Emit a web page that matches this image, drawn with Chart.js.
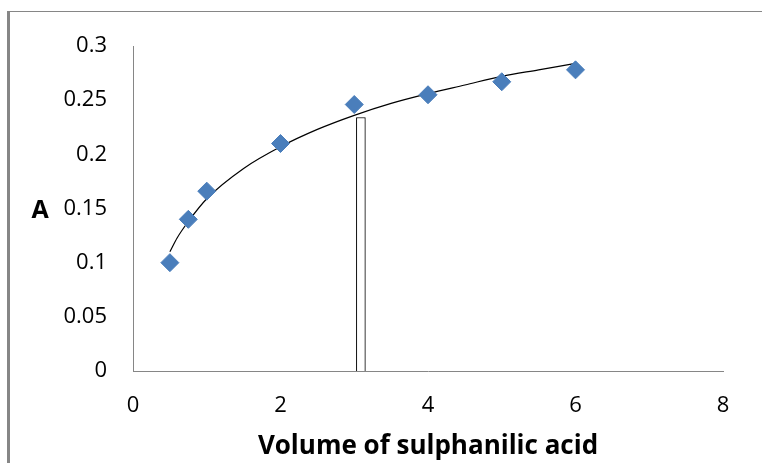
<!DOCTYPE html>
<html>
<head>
<meta charset="utf-8">
<title>Volume of sulphanilic acid</title>
<script src="https://cdn.jsdelivr.net/npm/chart.js@4/dist/chart.umd.min.js"></script>
<style>
    html, body { margin: 0; padding: 0; background: #fff; overflow: hidden; }
    #wrap { position: relative; width: 762px; height: 463px; }
    #frame {
        position: absolute; left: 7px; top: 11px; width: 800px; height: 500px;
        border-left: 3px solid #868686; border-top: 1px solid #868686;
    }
    #chart { position: absolute; left: 0; top: 0; }
</style>
</head>
<body>
<div id="wrap">
    <div id="frame"></div>
    <canvas id="chart" width="762" height="463"></canvas>
</div>
<script>
// measured points
const volume = [0.5, 0.75, 1, 2, 3, 4, 5, 6];
const absorbance = [0.1, 0.14, 0.166, 0.21, 0.246, 0.255, 0.267, 0.278];

// trend curve read along its length
const trendX = [0.5, 0.6, 0.75, 1, 1.5, 2, 2.5, 3, 3.5, 4, 4.5, 5, 5.5, 6];
const trendY = [0.110, 0.123, 0.138, 0.159, 0.187, 0.207, 0.223, 0.236, 0.247, 0.256, 0.264, 0.272, 0.278, 0.284];

// single marker bar
const barX = [3.09];
const barY = [0.234];

// axis ticks
const xTickValues = [0, 2, 4, 6, 8];
const xTickLabels = ['0', '2', '4', '6', '8'];
const yTickValues = [0, 0.05, 0.1, 0.15, 0.2, 0.25, 0.3];
const yTickLabels = ['0', '0.05', '0.1', '0.15', '0.2', '0.25', '0.3'];

const toPoints = (xs, ys) => xs.map((x, i) => ({ x: x, y: ys[i] }));

const tickFont = { family: "'Open Sans', sans-serif", size: 22 };
const titleFont = { family: "'Open Sans', sans-serif", size: 26, weight: 'bold' };

// horizontal "A" label left of the value axis
const yTitlePlugin = {
    id: 'yTitle',
    afterDraw(chart) {
        const { ctx, chartArea } = chart;
        ctx.save();
        ctx.font = 'bold 25px "Open Sans", sans-serif';
        ctx.fillStyle = '#000';
        ctx.textAlign = 'center';
        ctx.textBaseline = 'middle';
        ctx.fillText('A', 40, (chartArea.top + chartArea.bottom) / 2 + 2);
        ctx.restore();
    }
};

function setTicks(values) {
    return function(scale) {
        scale.ticks = values.map(v => ({ value: v }));
    };
}

const ctx = document.getElementById('chart').getContext('2d');
const chart = new Chart(ctx, {
    type: 'scatter',
    data: {
        datasets: [
            {
                label: 'A',
                data: toPoints(volume, absorbance),
                pointStyle: 'rectRot',
                pointRadius: 9,
                pointBorderWidth: 1,
                backgroundColor: '#4a7ebb',
                borderColor: '#4a7ebb',
                order: 0
            },
            {
                type: 'line',
                label: 'trend',
                data: toPoints(trendX, trendY),
                borderColor: '#000',
                borderWidth: 1.2,
                pointRadius: 0,
                fill: false,
                cubicInterpolationMode: 'monotone',
                order: 1
            },
            {
                type: 'bar',
                label: 'bar',
                data: toPoints(barX, barY),
                backgroundColor: '#fff',
                borderColor: '#000',
                borderWidth: 1,
                barThickness: 9,
                order: 2
            }
        ]
    },
    options: {
        responsive: false,
        animation: false,
        layout: { padding: { left: 0, top: 46, right: 39, bottom: 0 } },
        plugins: {
            legend: { display: false },
            tooltip: { enabled: false }
        },
        scales: {
            x: {
                type: 'linear',
                min: 0,
                max: 8,
                offset: false,
                afterBuildTicks: setTicks(xTickValues),
                afterFit(scale) { scale.height = 92; },
                grid: { display: false, drawTicks: false },
                border: { display: true, color: '#868686', width: 1 },
                ticks: {
                    padding: 22,
                    color: '#000',
                    font: tickFont,
                    maxRotation: 0,
                    callback: (v, i) => xTickLabels[i]
                },
                title: {
                    display: true,
                    text: 'Volume of sulphanilic acid',
                    color: '#000',
                    font: titleFont,
                    padding: { top: 0, bottom: 1 }
                }
            },
            y: {
                type: 'linear',
                min: 0,
                max: 0.3,
                afterBuildTicks: setTicks(yTickValues),
                afterFit(scale) { scale.width = 133; },
                grid: { display: false, drawTicks: false },
                border: { display: true, color: '#868686', width: 1 },
                ticks: {
                    padding: 26,
                    color: '#000',
                    font: tickFont,
                    callback: (v, i) => yTickLabels[i]
                }
            }
        }
    },
    plugins: [yTitlePlugin]
});
</script>
</body>
</html>
